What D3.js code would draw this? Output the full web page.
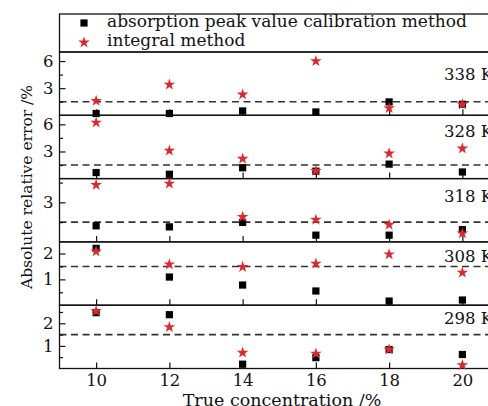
<!DOCTYPE html>
<html><head><meta charset="utf-8">
<script src="https://cdn.jsdelivr.net/npm/d3@7"></script>
<style>
html,body{margin:0;padding:0;background:#fff;}
svg{display:block;}
text{font-family:"DejaVu Serif",serif;fill:#111;}
</style></head>
<body><div id="chart"></div>
<script>
// ---- data ----
const concentration = [10, 12, 14, 16, 18, 20];
const xTickValues = [10, 12, 14, 16, 18, 20];
const temperatures = ["338 K", "328 K", "318 K", "308 K", "298 K"];
const peak338 = [0.2, 0.2, 0.48, 0.37, 1.48, 1.22];
const integral338 = [1.6, 3.4, 2.3, 6.0, 0.8, 1.2];
const peak328 = [0.67, 0.48, 1.2, 0.82, 1.6, 0.73];
const integral328 = [6.2, 3.1, 2.2, 0.85, 2.78, 3.33];
const peak318 = [1.22, 1.14, 1.48, 0.51, 0.51, 0.93];
const integral318 = [4.32, 4.42, 1.9, 1.68, 1.3, 0.65];
const peak308 = [2.2, 1.09, 0.78, 0.55, 0.16, 0.2];
const integral308 = [2.08, 1.58, 1.48, 1.61, 1.97, 1.26];
const peak298 = [2.47, 2.38, 0.19, 0.48, 0.84, 0.62];
const integral298 = [2.54, 1.83, 0.7, 0.66, 0.84, 0.15];
const yMax = [7, 7, 4.8, 2.45, 2.8];
const majorTicks = [[3, 6], [3, 6], [3], [1, 2], [1, 2]];
const minorTicks = [[1.5, 4.5], [1.5, 4.5], [1.5, 4.5], [0.5, 1.5], [0.5, 1.5, 2.5]];
const threshold = 1.5;
const legendLabels = ["absorption peak value calibration method", "integral method"];
const xLabel = "True concentration /%";
const yLabel = "Absolute relative error /%";

const peakSeries = [peak338, peak328, peak318, peak308, peak298];
const integralSeries = [integral338, integral328, integral318, integral308, integral298];

// ---- layout ----
const W = 488, H = 406;
const left = 59.5, right = 499;
const panelsTop = 52, panelsBottom = 368.5;
const nP = temperatures.length;
const pH = (panelsBottom - panelsTop) / nP;
const red = "#e3262b";

const svg = d3.select("#chart").append("svg").attr("width", W).attr("height", H);

const x = d3.scaleLinear().domain([9, 21]).range([left, right]);

const starSym = d3.symbol().type(d3.symbolStar).size(42);
const sqSym = d3.symbol().type(d3.symbolSquare).size(52);

// legend box
svg.append("rect").attr("x", left).attr("y", 14).attr("width", right - left).attr("height", panelsTop - 14)
  .attr("fill", "none").attr("stroke", "#111").attr("stroke-width", 1.3);
svg.append("path").attr("d", sqSym()).attr("transform", "translate(84,23)").attr("fill", "#000");
svg.append("path").attr("d", starSym()).attr("transform", "translate(84,42.5)").attr("fill", red);
svg.append("text").attr("x", 107).attr("y", 26.5).attr("font-size", 17).text(legendLabels[0]);
svg.append("text").attr("x", 107).attr("y", 45.5).attr("font-size", 17).text(legendLabels[1]);

const labelOffsets = [28, 22, 23, 20, 19];

temperatures.forEach((t, i) => {
  const top = panelsTop + i * pH, bottom = top + pH;
  const y = d3.scaleLinear().domain([0, yMax[i]]).range([bottom, top]);
  const g = svg.append("g");

  // dashed threshold
  g.append("line").attr("x1", left).attr("x2", right).attr("y1", y(threshold)).attr("y2", y(threshold))
    .attr("stroke", "#333").attr("stroke-width", 1.6).attr("stroke-dasharray", "7,4.5");

  // minor y ticks
  g.append("g").attr("transform", `translate(${left},0)`)
    .call(d3.axisLeft(y).tickValues(minorTicks[i]).tickSize(-3.5).tickFormat(""))
    .call(s => s.select(".domain").remove())
    .selectAll("line").attr("stroke", "#111").attr("stroke-width", 1.2);

  // major y ticks
  const ya = g.append("g").attr("transform", `translate(${left},0)`)
    .call(d3.axisLeft(y).tickValues(majorTicks[i]).tickSize(-6).tickPadding(6).tickFormat(d3.format("d")));
  ya.select(".domain").remove();
  ya.selectAll("line").attr("stroke", "#111").attr("stroke-width", 1.2);
  ya.selectAll("text").attr("font-size", 16.5).attr("font-family", "DejaVu Serif").attr("fill", "#111");

  // bottom x ticks
  const xa = g.append("g").attr("transform", `translate(0,${bottom})`)
    .call(d3.axisBottom(x).tickValues(xTickValues).tickSize(-6).tickPadding(6)
      .tickFormat(i === nP - 1 ? d3.format("d") : () => ""));
  xa.select(".domain").remove();
  xa.selectAll("line").attr("stroke", "#111").attr("stroke-width", 1.2);
  xa.selectAll("text").attr("font-size", 16.5).attr("font-family", "DejaVu Serif").attr("fill", "#111");

  // frame
  g.append("rect").attr("x", left).attr("y", top).attr("width", right - left).attr("height", pH)
    .attr("fill", "none").attr("stroke", "#111").attr("stroke-width", 1.3);

  // temperature label
  g.append("text").attr("x", 444).attr("y", top + labelOffsets[i]).attr("font-size", 16.5).text(t);

  // points
  g.selectAll(".sq").data(concentration.map((c, k) => [c, peakSeries[i][k]])).join("path")
    .attr("d", sqSym()).attr("fill", "#000")
    .attr("transform", d => `translate(${x(d[0])},${y(d[1])})`);
  g.selectAll(".st").data(concentration.map((c, k) => [c, integralSeries[i][k]])).join("path")
    .attr("d", starSym()).attr("fill", red)
    .attr("transform", d => `translate(${x(d[0])},${y(d[1])})`);
});

// axis titles
svg.append("text").attr("x", 282).attr("y", 406).attr("text-anchor", "middle")
  .attr("font-size", 17.5).text(xLabel);
svg.append("text").attr("transform", `translate(31.5,187) rotate(-90)`)
  .attr("text-anchor", "middle").attr("font-size", 15.5).text(yLabel);
</script>
</body></html>
